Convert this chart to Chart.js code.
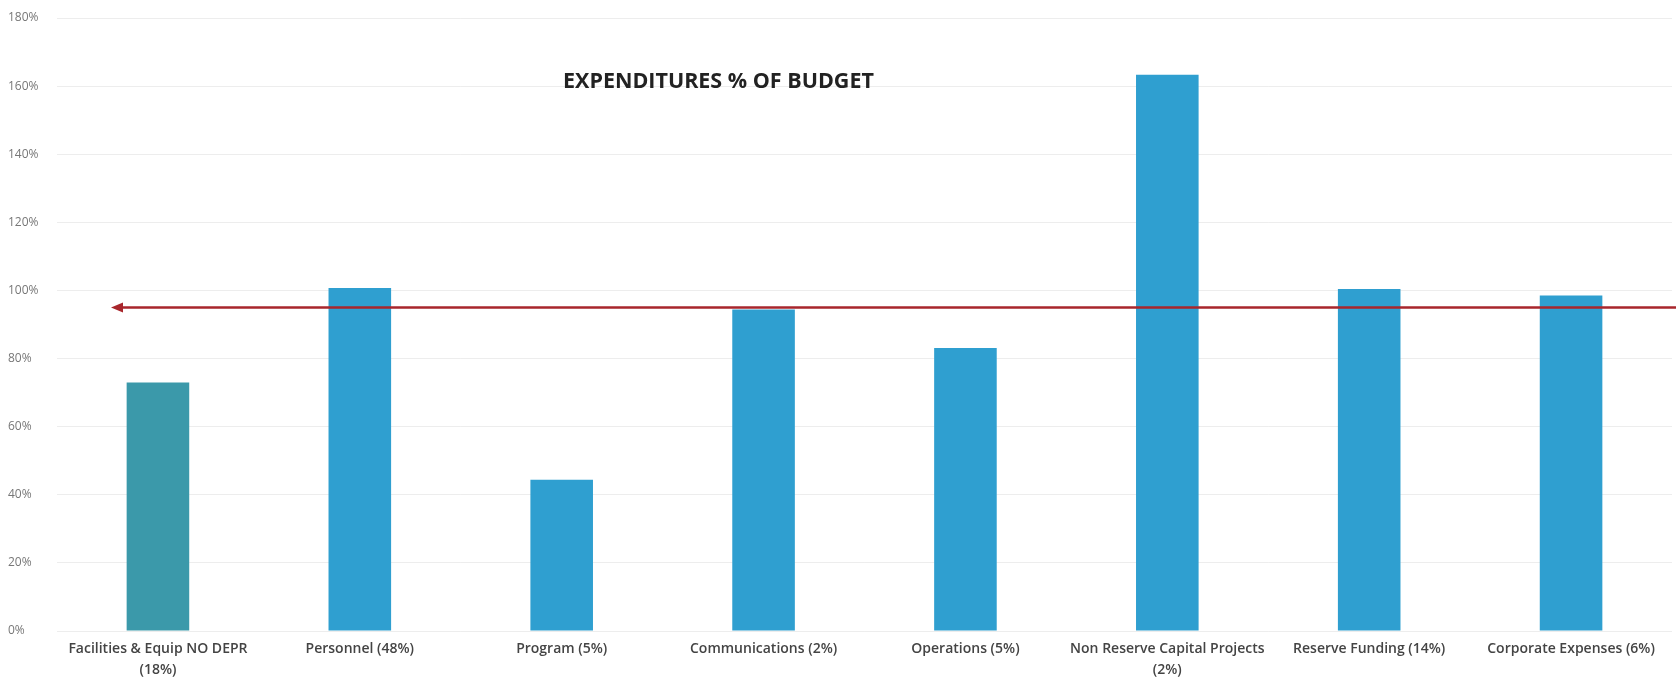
<!DOCTYPE html>
<html>
<head>
<meta charset="utf-8">
<script src="https://cdn.jsdelivr.net/npm/chart.js@4"></script>
<style>
  html, body { margin: 0; padding: 0; background: #fff; }
  #wrap { width: 1676px; height: 683px; }
</style>
</head>
<body>
<div id="wrap"><canvas id="graph-budget"></canvas></div>
<script>
  const categories = [
    ['Facilities & Equip NO DEPR', '(18%)'],
    'Personnel (48%)',
    'Program (5%)',
    'Communications (2%)',
    'Operations (5%)',
    ['Non Reserve Capital Projects', '(2%)'],
    'Reserve Funding (14%)',
    'Corporate Expenses (6%)'
  ];
  const pctOfBudget = [73, 100.7, 44.4, 94.4, 83.1, 163.3, 100.4, 98.5];
  const barColors = ['#3b99aa', '#2f9fd0', '#2f9fd0', '#2f9fd0', '#2f9fd0', '#2f9fd0', '#2f9fd0', '#2f9fd0'];
  const targetLine = 95;
  const chartTitle = 'EXPENDITURES % OF BUDGET';

  // red reference arrow + title inside plot
  const overlay = {
    id: 'overlay',
    afterDatasetsDraw(chart) {
      const c = chart.ctx;
      const y = chart.scales.y.getPixelForValue(targetLine);
      const x0 = chart.chartArea.left + 54;
      c.save();
      c.strokeStyle = '#a8262c';
      c.fillStyle = '#a8262c';
      c.lineWidth = 2.5;
      c.beginPath();
      c.moveTo(x0 + 8, y);
      c.lineTo(chart.width, y);
      c.stroke();
      c.beginPath();
      c.moveTo(x0, y);
      c.lineTo(x0 + 12, y - 5);
      c.lineTo(x0 + 12, y + 5);
      c.closePath();
      c.fill();
      c.font = 'bold 21.5px "Open Sans"';
      c.fillStyle = '#222';
      c.textBaseline = 'middle';
      c.fillText(chartTitle, 563, 82);
      c.restore();
    }
  };

  const data = {
    labels: categories,
    datasets: [
      {
        label: '% of budget',
        data: pctOfBudget,
        backgroundColor: barColors,
        barPercentage: 0.31,
        categoryPercentage: 1.0
      }
    ]
  };

  const config = {
    type: 'bar',
    data: data,
    plugins: [overlay],
    options: {
      responsive: true,
      maintainAspectRatio: false,
      animation: false,
      layout: { padding: { top: 18, right: 4, left: 8, bottom: 2 } },
      plugins: {
        title: { display: false },
        legend: { display: false },
        tooltip: { enabled: false }
      },
      scales: {
        x: {
          grid: { display: false },
          border: { display: false },
          ticks: {
            color: '#444',
            font: { family: 'Open Sans', size: 14, weight: '600', lineHeight: 1.5 },
            maxRotation: 0,
            autoSkip: false,
            padding: 0
          }
        },
        y: {
          min: 0,
          max: 180,
          border: { display: false },
          grid: { color: 'rgba(0,0,0,0.07)', drawTicks: false },
          afterFit: (scale) => { scale.width = 49; },
          ticks: {
            stepSize: 20,
            crossAlign: 'far',
            padding: 8,
            color: '#777',
            font: { family: 'Open Sans', size: 12 },
            callback: (v) => v + '%'
          }
        }
      }
    }
  };

  const ctx = document.getElementById('graph-budget').getContext('2d');
  new Chart(ctx, config);
</script>
</body>
</html>
